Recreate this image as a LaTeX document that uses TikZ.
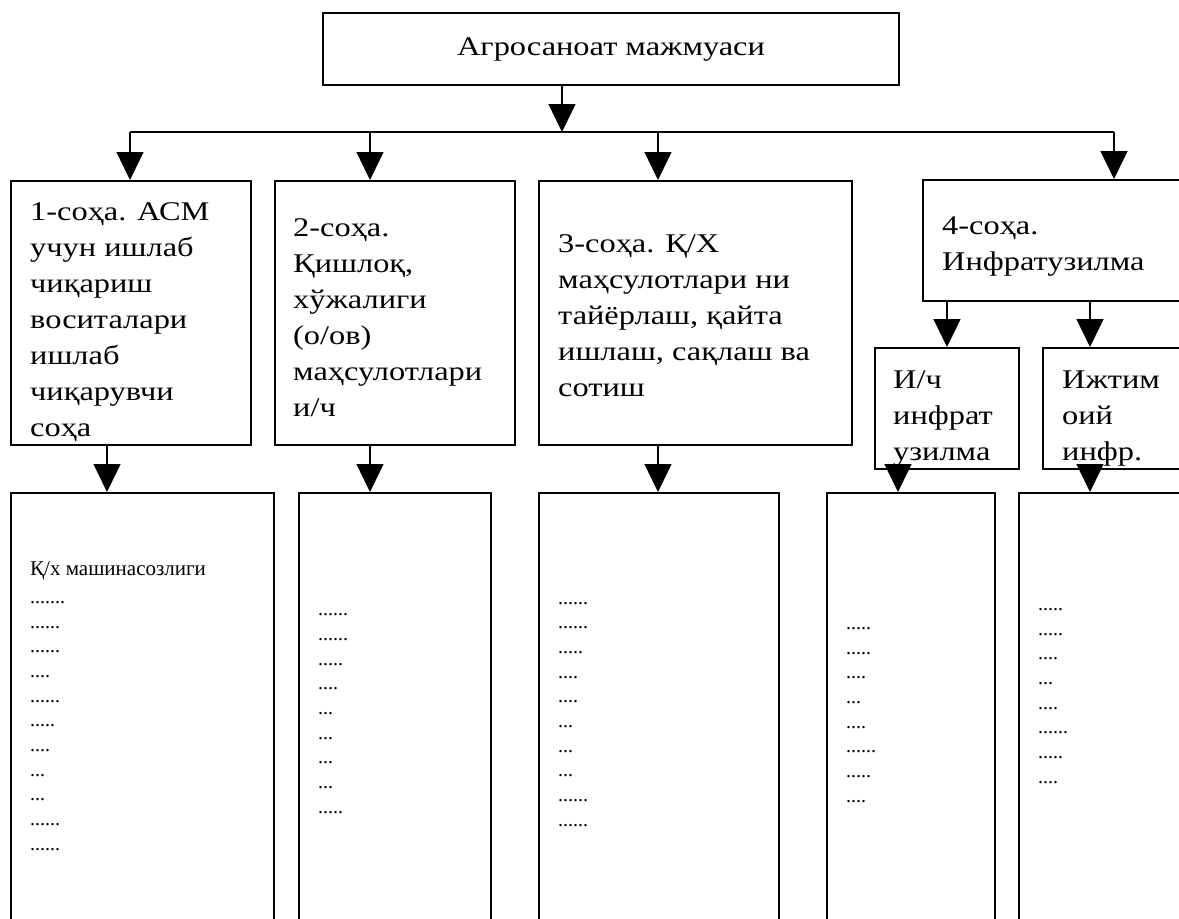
\documentclass[tikz,border=0pt]{standalone}
\usepackage{fontspec}
\setmainfont{Liberation Serif}
\newfontfamily\widefont{Liberation Serif}[FakeStretch=1.2]
\usepackage{tikz}
\usetikzlibrary{arrows.meta,positioning}

\begin{document}
\begin{tikzpicture}[
  x=1pt, y=-1pt,
  headbox/.style={draw, line width=2pt, anchor=north west, minimum width=576pt, minimum height=72pt, inner sep=0pt, font=\widefont\fontsize{27}{36}\selectfont},
  sector/.style={draw, line width=2pt, anchor=north west, inner sep=0pt},
  sectext/.style={anchor=base west, inner sep=0pt, align=left, font=\widefont\fontsize{27}{36}\selectfont},
  dotlist/.style={anchor=base west, inner sep=0pt, align=left, font=\fontsize{20}{24.65}\selectfont},
  arr/.style={-{Triangle[length=28pt, width=27pt]}, line width=1.3pt},
  link/.style={line width=1.3pt}
]
  \useasboundingbox (0,0) rectangle (1179,919);

  \node[headbox] (asm) at (322,12) {Агросаноат мажмуаси};

  \node[sector, minimum width=240pt, minimum height=264pt] (s1) at (10,180) {};
  \node[sector, minimum width=240pt, minimum height=264pt] (s2) at (274,180) {};
  \node[sector, minimum width=313pt, minimum height=264pt] (s3) at (538,180) {};
  \node[sector, minimum width=300pt, minimum height=121pt] (s4) at (922,179) {};
  \node[sector, minimum width=144pt, minimum height=121pt] (inf1) at (874,347) {};
  \node[sector, minimum width=160pt, minimum height=121pt] (inf2) at (1042,347) {};

  % base anchor = baseline of the last line
  \node[sectext, xshift=20pt, yshift=-256pt] (t1) at (s1.north west) {1-соҳа. АСМ\\учун ишлаб\\чиқариш\\воситалари\\ишлаб\\чиқарувчи\\соҳа};
  \node[sectext, xshift=19pt, yshift=-236pt] (t2) at (s2.north west) {2-соҳа.\\Қишлоқ,\\хўжалиги\\(о/ов)\\маҳсулотлари\\и/ч};
  \node[sectext, xshift=20pt, yshift=-216pt] (t3) at (s3.north west) {3-соҳа. Қ/Х\\маҳсулотлари ни\\тайёрлаш, қайта\\ишлаш, сақлаш ва\\сотиш};
  \node[sectext, xshift=20pt, yshift=-91pt] (t4) at (s4.north west) {4-соҳа.\\Инфратузилма};
  \node[sectext, xshift=19pt, yshift=-113pt] (t5) at (inf1.north west) {И/ч\\инфрат\\узилма};
  \node[sectext, xshift=20pt, yshift=-113pt] (t6) at (inf2.north west) {Ижтим\\оий\\инфр.};

  \node[sector, minimum width=263pt, minimum height=446pt] (b1) at (10,492) {};
  \node[sector, minimum width=192pt, minimum height=446pt] (b2) at (298,492) {};
  \node[sector, minimum width=240pt, minimum height=446pt] (b3) at (538,492) {};
  \node[sector, minimum width=168pt, minimum height=446pt] (b4) at (826,492) {};
  \node[sector, minimum width=200pt, minimum height=446pt] (b5) at (1018,492) {};

  \node[dotlist, xshift=20pt, yshift=-358pt] (l1) at (b1.north west) {{\fontsize{21}{24.65}\selectfont Қ/х машинасозлиги}\\[3.3pt].......\\......\\......\\....\\......\\.....\\....\\...\\...\\......\\......};
  \node[dotlist, xshift=20pt, yshift=-321pt] (l2) at (b2.north west) {......\\......\\.....\\....\\...\\...\\...\\...\\.....};
  \node[dotlist, xshift=20pt, yshift=-334pt] (l3) at (b3.north west) {......\\......\\.....\\....\\....\\...\\...\\...\\......\\......};
  \node[dotlist, xshift=20pt, yshift=-310pt] (l4) at (b4.north west) {.....\\.....\\....\\...\\....\\......\\.....\\....};
  \node[dotlist, xshift=20pt, yshift=-291pt] (l5) at (b5.north west) {.....\\.....\\....\\...\\....\\......\\.....\\....};

  \coordinate (bus) at (562,132);
  \coordinate (j1) at (130,132);
  \coordinate (j2) at (370,132);
  \coordinate (j3) at (658,132);
  \coordinate (j4) at (1114,132);
  \coordinate (k1) at (107,0);
  \coordinate (k4) at (898,0);
  \coordinate (k5) at (1090,0);

  \draw[arr] (asm.south -| bus) -- (bus);
  \draw[link] (j1) -- (j4);
  \draw[arr] (j1) -- (j1 |- s1.north);
  \draw[arr] (j2) -- (j2 |- s2.north);
  \draw[arr] (j3) -- (j3 |- s3.north);
  \draw[arr] (j4) -- (j4 |- s4.north);
  \draw[arr] (s4.south -| inf1.north) -- (inf1.north);
  \draw[arr] (k5 |- s4.south) -- (k5 |- inf2.north);
  \draw[arr] (k1 |- s1.south) -- (k1 |- b1.north);
  \draw[arr] (j2 |- s2.south) -- (j2 |- b2.north);
  \draw[arr] (j3 |- s3.south) -- (j3 |- b3.north);
  \draw[arr] (k4 |- inf1.south) -- (k4 |- b4.north);
  \draw[arr] (k5 |- inf2.south) -- (k5 |- b5.north);
\end{tikzpicture}
\end{document}
